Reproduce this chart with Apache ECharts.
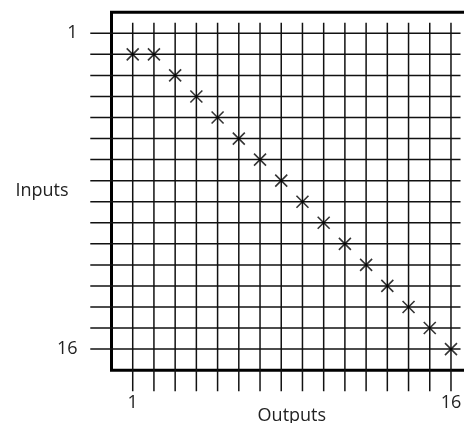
<!DOCTYPE html>
<html>
<head>
<meta charset="utf-8">
<script src="https://cdn.jsdelivr.net/npm/echarts@6/dist/echarts.min.js"></script>
<style>
  html, body { margin: 0; padding: 0; background: #fff; }
  #chart { width: 464px; height: 423px; }
</style>
</head>
<body>
<div id="chart"></div>
<script>
// ---- data ----
var outputs = [1, 2, 3, 4, 5, 6, 7, 8, 9, 10, 11, 12, 13, 14, 15, 16];   // vertical grid lines
var inputs  = [1, 2, 3, 4, 5, 6, 7, 8, 9, 10, 11, 12, 13, 14, 15, 16];   // horizontal grid lines
var connOutputs = [1, 2, 3, 4, 5, 6, 7, 8, 9, 10, 11, 12, 13, 14, 15, 16];
var connInputs  = [2, 2, 3, 4, 5, 6, 7, 8, 9, 10, 11, 12, 13, 14, 15, 16];
var xTickLabels = [1, 16];
var yTickLabels = [1, 16];
var xName = 'Outputs';
var yName = 'Inputs';

var FONT = "'Open Sans', 'DejaVu Sans', sans-serif";
var LINE_COLOR = '#111';

var chart = echarts.init(document.getElementById('chart'), null, { renderer: 'canvas' });

function lineItem(p1, p2) {
  return {
    type: 'line',
    shape: { x1: p1[0], y1: p1[1], x2: p2[0], y2: p2[1] },
    style: { stroke: LINE_COLOR, lineWidth: 1.5 }
  };
}

var option = {
  animation: false,
  backgroundColor: '#fff',
  grid: {
    left: 111.5, top: 12.25, width: 360.7, height: 357.9,
    containLabel: false, outerBoundsMode: 'none',
    show: true, borderColor: '#000', borderWidth: 3, backgroundColor: 'transparent'
  },
  xAxis: {
    type: 'value', min: 0, max: 17, interval: 1,
    axisLine: { show: false }, axisTick: { show: false }, splitLine: { show: false },
    axisLabel: {
      margin: 24, fontFamily: FONT, fontSize: 18, color: '#222',
      formatter: function (v) { return xTickLabels.indexOf(v) >= 0 ? String(v) : ''; }
    },
    name: xName, nameLocation: 'middle', nameGap: 37, nameMoveOverlap: false,
    nameTextStyle: { fontFamily: FONT, fontSize: 18, color: '#222' }
  },
  yAxis: {
    type: 'value', min: 0, max: 17, interval: 1, inverse: true,
    axisLine: { show: false }, axisTick: { show: false }, splitLine: { show: false },
    axisLabel: {
      margin: 34, fontFamily: FONT, fontSize: 18, color: '#222',
      formatter: function (v) { return yTickLabels.indexOf(v) >= 0 ? String(v) : ''; }
    },
    name: yName, nameLocation: 'middle', nameGap: 43, nameRotate: 0, nameMoveOverlap: false,
    nameTextStyle: { fontFamily: FONT, fontSize: 18, color: '#222' }
  },
  series: [
    {
      type: 'custom', clip: false, silent: true,
      data: outputs,
      renderItem: function (params, api) {
        var x = api.value(0);
        return lineItem(api.coord([x, 0.5]), api.coord([x, 18]));
      },
      encode: { x: 0 }
    },
    {
      type: 'custom', clip: false, silent: true,
      data: inputs,
      renderItem: function (params, api) {
        var y = api.value(0);
        return lineItem(api.coord([-1, y]), api.coord([16.45, y]));
      },
      encode: { y: 0 }
    },
    {
      type: 'scatter', silent: true,
      data: connOutputs.map(function (o, i) { return [o, connInputs[i]]; }),
      symbol: 'path://M0,0L10,10M10,0L0,10',
      symbolSize: 12,
      itemStyle: { color: 'transparent', borderColor: '#000', borderWidth: 1.6 },
      emphasis: { disabled: true },
      z: 5
    }
  ]
};
chart.setOption(option);
</script>
</body>
</html>
